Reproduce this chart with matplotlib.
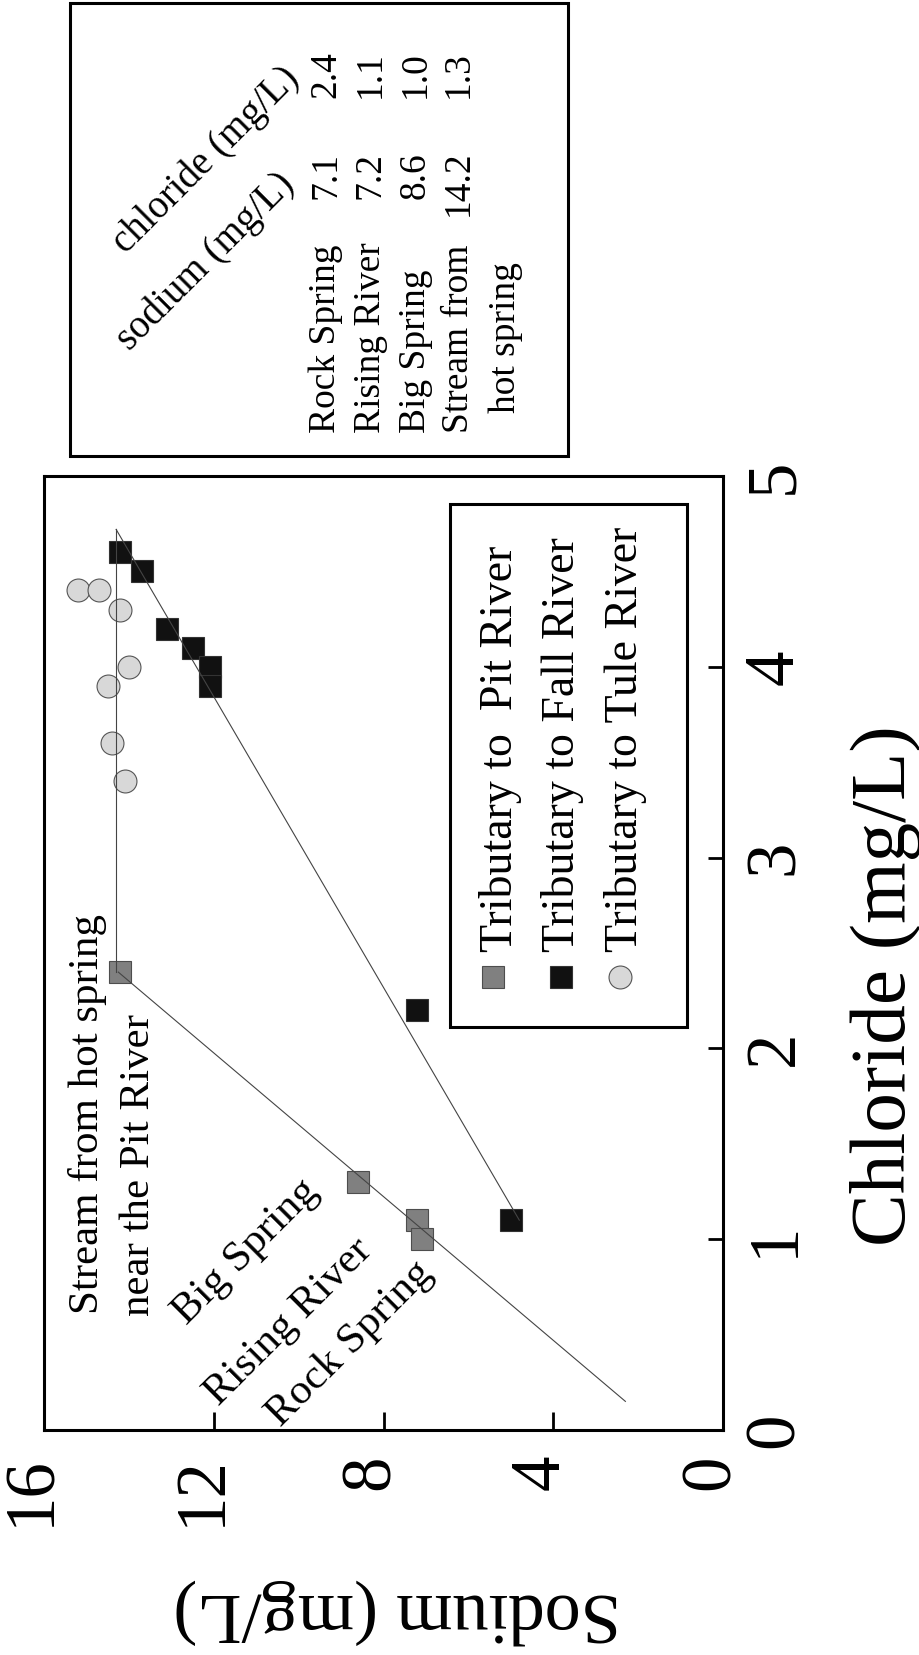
import matplotlib
matplotlib.use("Agg")
import matplotlib.pyplot as plt
from matplotlib.patches import Rectangle
from matplotlib.lines import Line2D
from matplotlib.transforms import ScaledTranslation

# --- data (sodium mg/L, chloride mg/L) ---
pit_na = [14.2, 8.6, 7.2, 7.1]
pit_cl = [2.4, 1.3, 1.1, 1.0]
fall_na = [14.2, 13.7, 13.1, 12.5, 12.1, 12.1, 7.2, 5.0]
fall_cl = [4.6, 4.5, 4.2, 4.1, 4.0, 3.9, 2.2, 1.1]
tule_na = [15.2, 14.7, 14.2, 14.0, 14.5, 14.4, 14.1]
tule_cl = [4.4, 4.4, 4.3, 4.0, 3.9, 3.6, 3.4]

# mixing lines
pit_line_na = [2.3, 14.25]
pit_line_cl = [0.15, 2.4]
hot_line_na = [14.3, 14.3]
hot_line_cl = [2.4, 4.72]
fall_line_na = [14.3, 4.8]
fall_line_cl = [4.72, 1.1]

sodium_ticks = [0, 4, 8, 12, 16]
chloride_ticks = [0, 1, 2, 3, 4, 5]

legend_labels = ["Tributary to  Pit River", "Tributary to Fall River",
                 "Tributary to Tule River"]

site_names = ["Rock Spring", "Rising River", "Big Spring", "Stream from"]
site_sodium = ["7.1", "7.2", "8.6", "14.2"]
site_chloride = ["2.4", "1.1", "1.0", "1.3"]

W, H = 919, 1655
plt.rcParams['font.family'] = ['Liberation Serif', 'DejaVu Serif']


def fx(x):
    return x / W


def fy(y):
    return 1 - y / H


fig = plt.figure(figsize=(W / 100, H / 100), dpi=100)
ax = fig.add_axes([fx(44), fy(1430), (723 - 44) / W, (1430 - 476) / H])
ax.set_xlim(16, 0)
ax.set_ylim(0, 5)

sq_gray = dict(marker='s', markersize=16, markerfacecolor='#808080',
               markeredgecolor='#4d4d4d', markeredgewidth=0.8, linestyle='none')
sq_black = dict(marker='s', markersize=16, markerfacecolor='#111111',
                markeredgecolor='#333333', markeredgewidth=0.8, linestyle='none')
circ = dict(marker='o', markersize=16.5, markerfacecolor='#d8d8d8',
            markeredgecolor='#555555', markeredgewidth=0.8, linestyle='none')

ax.plot(pit_na, pit_cl, zorder=2, **sq_gray)
ax.plot(fall_na, fall_cl, zorder=2, **sq_black)
ax.plot(tule_na, tule_cl, zorder=2, **circ)

for lx, ly in [(pit_line_na, pit_line_cl), (hot_line_na, hot_line_cl),
               (fall_line_na, fall_line_cl)]:
    ax.plot(lx, ly, color='#444444', linewidth=0.8, zorder=3)

# axes styling
for s in ax.spines.values():
    s.set_linewidth(2.2)
ax.set_xticks(sodium_ticks)
ax.set_xticklabels([str(t) for t in sodium_ticks], rotation=90, fontsize=51)
ax.yaxis.tick_right()
ax.set_yticks(chloride_ticks)
ax.set_yticklabels([str(t) for t in chloride_ticks], rotation=90, fontsize=51,
                   va='center')
ax.tick_params(axis='x', direction='in', length=13, width=2, pad=18,
               top=False, bottom=True)
ax.tick_params(axis='y', direction='in', length=11, width=2, pad=14,
               left=False, right=True)
shift = ScaledTranslation(-12 / 100, 0, fig.dpi_scale_trans)
for lbl in ax.get_xticklabels():
    lbl.set_transform(lbl.get_transform() + shift)

fig.text(fx(397), fy(1612), "Sodium (mg/L)", rotation=180, fontsize=52,
         ha='center', va='center')
fig.text(fx(886), fy(986), "Chloride (mg/L)", rotation=90, fontsize=57,
         ha='center', va='center')

# annotations inside the plot
ann = dict(fontsize=31, rotation_mode='anchor', ha='left', va='baseline')
ax.text(14.73, 0.61, "Stream from hot spring", rotation=90, **ann)
ax.text(13.52, 0.60, "near the Pit River", rotation=90, **ann)
ax.text(12.64, 0.545, "Big Spring", rotation=45, **ann)
ax.text(11.88, 0.12, "Rising River", rotation=45, **ann)
ax.text(10.43, 0.01, "Rock Spring", rotation=45, **ann)

# legend drawn by hand (rotated)
fig.add_artist(Rectangle((fx(450), fy(1027)), (687 - 450) / W, (1027 - 504) / H,
                         transform=fig.transFigure, fill=False, linewidth=2.2,
                         edgecolor='black'))
leg_styles = [sq_gray, sq_black, circ]
leg_marker_x = [493, 561, 620]
leg_base_x = [512, 574, 637]
for lab, st, mx, bx in zip(legend_labels, leg_styles, leg_marker_x, leg_base_x):
    fig.add_artist(Line2D([fx(mx)], [fy(977)], transform=fig.transFigure, **st))
    fig.text(fx(bx), fy(952), lab, rotation=90, fontsize=33,
             rotation_mode='anchor', ha='left', va='baseline')

# table inset
fig.add_artist(Rectangle((fx(70), fy(456)), (568 - 70) / W, (456 - 3) / H,
                         transform=fig.transFigure, fill=False, linewidth=2.2,
                         edgecolor='black'))
tab = dict(fontsize=27, rotation=90, rotation_mode='anchor', ha='left',
           va='baseline')
row_x = [335, 380, 425, 468]
for name, na, cl, rx in zip(site_names, site_sodium, site_chloride, row_x):
    fig.text(fx(rx), fy(433), name, **tab)
    fig.text(fx(rx), fy(216 if len(na) > 3 else 199), na, **tab)
    fig.text(fx(rx), fy(98), cl, **tab)
fig.text(fx(515), fy(413), "hot spring", **tab)
fig.text(fx(296), fy(186), "sodium (mg/L)", fontsize=28, rotation=45,
         rotation_mode='anchor', ha='right', va='baseline')
fig.text(fx(300), fy(80), "chloride (mg/L)", fontsize=28, rotation=45,
         rotation_mode='anchor', ha='right', va='baseline')

fig.savefig("out.png", dpi=100)
